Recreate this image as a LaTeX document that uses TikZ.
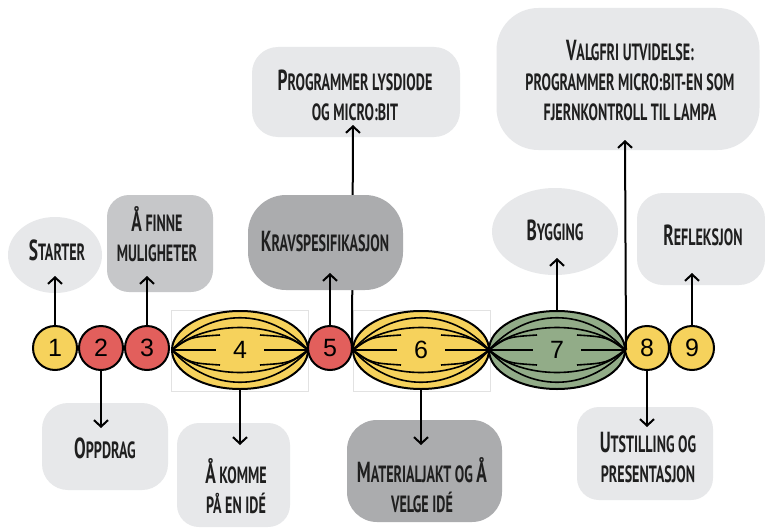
\documentclass[tikz,border=0pt]{standalone}
\usepackage{fontspec}
\usetikzlibrary{shapes.geometric,arrows.meta}
\newfontfamily\hand[FakeStretch=0.6]{PT Sans Bold}
\newfontfamily\digits{Liberation Sans}
\definecolor{lg}{HTML}{E7E8EA}
\definecolor{mg}{HTML}{C6C7C9}
\definecolor{dg}{HTML}{ABACAE}
\definecolor{yel}{HTML}{F6D25C}
\definecolor{rd}{HTML}{E25F5C}
\definecolor{grn}{HTML}{92AC88}
\definecolor{frm}{HTML}{E2E2E2}
\newcommand\Cap[1]{{\fontsize{29}{30}\selectfont #1}}
\newcommand\melon[4]{%
  \node[melonshape, fill=#2] (#4) at (#1,350) {};
  \begin{scope}[shift={(#1,350)}, line width=1.6pt]
    \foreach \s in {1,-1}{
      \draw (-68,0) .. controls (-30,\s*43) and (30,\s*43) .. (68,0);
      \draw (-68,0) .. controls (-35,\s*30) and (35,\s*30) .. (68,0);
      \draw (-68,0) .. controls (-50,\s*13) .. (-20,\s*15);
      \draw (68,0) .. controls (50,\s*13) .. (20,\s*15);
    }
    \draw (-68,0) -- (-24,0);
    \draw (68,0) -- (24,0);
  \end{scope}
  \node[numtext] (n#4) at (#1,350) {#3};
}
\begin{document}
\begin{tikzpicture}[x=1pt,y=-1pt,
  box/.style={rectangle, rounded corners=24pt, inner sep=0, draw=none},
  oval/.style={ellipse, inner sep=0, draw=none},
  lbl/.style={font={\hand\fontsize{23.5}{30}\selectfont}, align=center, inner sep=0, text=black!88},
  arr/.style={line width=2pt, -{Straight Barb[length=6.5pt,width=14pt,line width=2pt]}},
  num/.style={circle, draw, line width=2pt, minimum size=44pt, inner sep=0, font={\digits\fontsize{25}{25}\selectfont}},
  numtext/.style={inner sep=0, font={\digits\fontsize{25}{25}\selectfont}},
  melonshape/.style={ellipse, draw, line width=2pt, minimum width=136pt, minimum height=78pt, inner sep=0},
  frame/.style={draw=frm, line width=0.6pt}]
\useasboundingbox (0,0) rectangle (765,527);
\fill[white] (0,0) rectangle (765,527);
% faint frames
\draw[frame] (171,310) rectangle (308,391);
\draw[frame] (353,310) rectangle (490,391);
% upper boxes behind the long lines
\node[box, fill=lg, rounded corners=26pt, minimum width=208pt, minimum height=90pt] (bprog) at (356,92) {};
\node[lbl] (tprog) at (355,95) {\Cap{P}ROGRAMMER LYSDIODE\\OG MICRO:BIT};
\node[box, fill=lg, rounded corners=42pt, minimum width=263pt, minimum height=142pt] (bval) at (628,79) {};
\node[lbl] (tval) at (630,81) {\Cap{V}ALGFRI UTVIDELSE:\\PROGRAMMER MICRO:BIT-EN SOM\\FJERNKONTROLL TIL LAMPA};
% timeline
\node[num, fill=yel] (c1) at (55,348) {1};
\node[num, fill=rd] (c2) at (101,348) {2};
\node[num, fill=rd] (c3) at (147,348) {3};
\melon{240}{yel}{4}{m4}
\node[num, fill=rd] (c5) at (330,348) {5};
\melon{421}{yel}{6}{m6}
\melon{557}{grn}{7}{m7}
\node[num, fill=yel] (c8) at (647,348) {8};
\node[num, fill=yel] (c9) at (692,348) {9};
% long lines
\coordinate (kprog) at (353,125);
\coordinate (kval) at (625,140);
\draw[arr] (m6.west) -- (kprog);
\draw[arr] (m7.east) -- (kval);
% other boxes
\node[oval, fill=lg, minimum width=94pt, minimum height=76pt] (bstart) at (55,255) {};
\node[lbl] (tstart) at (57,250) {\Cap{S}TARTER};
\node[box, fill=mg, rounded corners=22pt, minimum width=106pt, minimum height=97pt] (bfinne) at (160,243.5) {};
\node[lbl] (tfinne) at (157,234) {\Cap{Å} FINNE\\MULIGHETER};
\node[box, fill=dg, rounded corners=38pt, minimum width=155pt, minimum height=95pt] (bkrav) at (325.5,242.5) {};
\node[lbl] (tkrav) at (325,242) {\Cap{K}RAVSPESIFIKASJON};
\node[oval, fill=lg, minimum width=126pt, minimum height=87pt] (bbyg) at (555,231.5) {};
\node[lbl] (tbyg) at (555,230) {\Cap{B}YGGING};
\node[box, fill=lg, rounded corners=26pt, minimum width=128pt, minimum height=92pt] (bref) at (701,239) {};
\node[lbl] (tref) at (703,235) {\Cap{R}EFLEKSJON};
\node[box, fill=lg, rounded corners=26pt, minimum width=126pt, minimum height=87pt] (bopp) at (105,446.5) {};
\node[lbl] (topp) at (105,448) {\Cap{O}PPDRAG};
\node[box, fill=lg, rounded corners=22pt, minimum width=113pt, minimum height=104pt] (bkom) at (233.5,475) {};
\node[lbl] (tkom) at (236,486) {\Cap{Å} KOMME\\PÅ EN IDÉ};
\node[box, fill=dg, rounded corners=30pt, minimum width=155pt, minimum height=102pt] (bmat) at (424.5,471) {};
\node[lbl] (tmat) at (422,485) {\Cap{M}ATERIALJAKT OG \Cap{Å}\\VELGE IDÉ};
\node[box, fill=lg, rounded corners=22pt, minimum width=136pt, minimum height=93pt] (buts) at (645,453.5) {};
\node[lbl] (tuts) at (648,458) {\Cap{U}TSTILLING OG\\PRESENTASJON};
% short arrows
\coordinate (k1) at (55,276);
\coordinate (k2) at (101,428);
\coordinate (k3) at (147,276);
\coordinate (k4) at (240,445);
\coordinate (k5) at (330,273);
\coordinate (k6) at (421,445);
\coordinate (k7) at (557,258);
\coordinate (k8) at (647,427);
\coordinate (k9) at (692,273);
\draw[arr] (c1.north) -- (k1);
\draw[arr] (c2.south) -- (k2);
\draw[arr] (c3.north) -- (k3);
\draw[arr] (m4.south) -- (k4);
\draw[arr] (c5.north) -- (k5);
\draw[arr] (m6.south) -- (k6);
\draw[arr] (m7.north) -- (k7);
\draw[arr] (c8.south) -- (k8);
\draw[arr] (c9.north) -- (k9);
\end{tikzpicture}
\end{document}
